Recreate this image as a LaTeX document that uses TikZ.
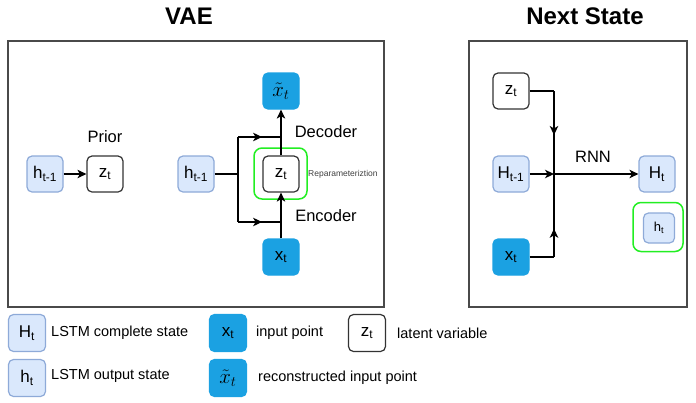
\documentclass[tikz,border=0pt]{standalone}
\usepackage{fontspec}
\setmainfont{Liberation Sans}
\usetikzlibrary{arrows.meta,decorations.markings}
\definecolor{lblue}{HTML}{DAE8FC}
\definecolor{lbluedraw}{HTML}{8EAAD8}
\definecolor{dblue}{HTML}{1BA1E2}
\definecolor{grn}{HTML}{22EE22}
\definecolor{pborder}{HTML}{4A4A4A}
\newcommand\nodefnt{\fontsize{17}{20}\selectfont}
\newcommand\labfnt{\fontsize{16.5}{19}\selectfont}
\newcommand\legfnt{\fontsize{14.5}{17}\selectfont}
\newcommand\titfnt{\fontsize{24}{28}\selectfont\bfseries}
\newcommand\xrec{{\fontsize{20}{22}\selectfont$\tilde{x}_t$}}
\begin{document}
\begin{tikzpicture}[x=1pt,y=-1pt,
  box/.style={rounded corners=5pt, minimum width=36pt, minimum height=36pt, inner sep=0pt, line width=1.2pt, font=\nodefnt},
  lbox/.style={box, fill=lblue, draw=lbluedraw},
  dbox/.style={box, fill=dblue, draw=dblue},
  wbox/.style={box, fill=white, draw=black!80},
  gbox/.style={rounded corners=8pt, draw=grn, line width=1.5pt, inner sep=0pt},
  ln/.style={line width=1.2pt, black},
  arr/.style={ln, -{Stealth[length=9pt,width=8.5pt,inset=2.5pt]}},
  midarr/.style={ln, decoration={markings, mark=at position #1 with {\arrow{Stealth[length=9pt,width=8.5pt,inset=2.5pt]}}}, postaction={decorate}},
  panel/.style={draw=pborder, line width=1.3pt},
  lab/.style={font=\labfnt, inner sep=0pt},
  leg/.style={font=\legfnt, inner sep=0pt, anchor=west}
]
\useasboundingbox (0,0) rectangle (696,402);
% titles
\node[font=\titfnt] (tvae) at (189,16) {VAE};
\node[font=\titfnt] (tns) at (585,16) {Next State};
% panels
\draw[panel] (8,41) rectangle (384,307);
\draw[panel] (469,41) rectangle (687,307);

% ---- VAE panel ----
\node[lbox] (h1) at (45,174) {h\textsubscript{t-1}};
\node[wbox] (z1) at (105,174) {z\textsubscript{t}};
\node[lab] (prior) at (105,137) {Prior};
\draw[arr] (h1) -- (z1);

\node[lbox] (h2) at (196,174) {h\textsubscript{t-1}};
\node[gbox, minimum width=53pt, minimum height=51pt] (g1) at (280.5,173.5) {};
\node[wbox] (z2) at (281,174) {z\textsubscript{t}};
\node[dbox] (xt2) at (281,91) {\xrec};
\node[dbox] (x2) at (281,257) {x\textsubscript{t}};
\node[lab] (dec) at (326,132) {Decoder};
\node[lab] (enc) at (326,216) {Encoder};
\node[font=\fontsize{8.5}{10}\selectfont, text=black!75, inner sep=0pt, anchor=west] (rep) at (308,174) {Reparameteriztion};
\coordinate (c1) at (238,174);
\coordinate (c2) at (238,137);
\coordinate (c3) at (238,222);
\draw[ln] (h2.east) -- (c1);
\draw[ln] (c2) -- (c3);
\draw[midarr=0.56] (c2) -- (c2 -| z2);
\draw[midarr=0.56] (c3) -- (c3 -| z2);
\draw[arr] (z2.north) -- (xt2.south);
\draw[arr] (x2.north) -- (z2.south);

% ---- Next State panel ----
\node[wbox] (z3) at (511,91) {z\textsubscript{t}};
\node[lbox] (H1) at (511,174) {H\textsubscript{t-1}};
\node[dbox] (x3) at (511,257) {x\textsubscript{t}};
\node[lbox] (Ht) at (657,174) {H\textsubscript{t}};
\node[gbox, minimum width=50pt, minimum height=49pt] (g2) at (658,227) {};
\node[lbox, minimum width=31pt, minimum height=30pt, font=\fontsize{13}{15}\selectfont] (ht) at (659,228) {h\textsubscript{t}};
\node[lab] (rnn) at (593,157) {RNN};
\coordinate (j) at (554,174);
\coordinate (zc) at (554,91);
\coordinate (xc) at (554,257);
\draw[ln] (z3.east) -- (zc);
\draw[midarr=0.53] (zc) -- (j);
\draw[ln] (x3.east) -- (xc);
\draw[midarr=0.34] (xc) -- (j);
\draw[arr] (H1.east) -- (j);
\draw[arr] (j) -- (Ht.west);

% ---- legend ----
\node[lbox, minimum width=37pt, minimum height=37pt] (lH) at (27,333) {H\textsubscript{t}};
\node[leg] (lHt) at (51,333) {LSTM complete state};
\node[lbox, minimum width=37pt, minimum height=37pt] (lh) at (27,378) {h\textsubscript{t}};
\node[leg] (lht) at (51,376) {LSTM output state};
\node[dbox, minimum width=37pt, minimum height=37pt] (lx) at (228,333) {x\textsubscript{t}};
\node[leg] (lxt) at (256,333) {input point};
\node[wbox, minimum width=37pt, minimum height=37pt] (lz) at (367,333) {z\textsubscript{t}};
\node[leg] (lzt) at (397,333) {latent variable};
\node[dbox, minimum width=37pt, minimum height=37pt] (lxr) at (228,378) {\xrec};
\node[leg] (lxrt) at (258,378) {reconstructed input point};
\end{tikzpicture}
\end{document}
